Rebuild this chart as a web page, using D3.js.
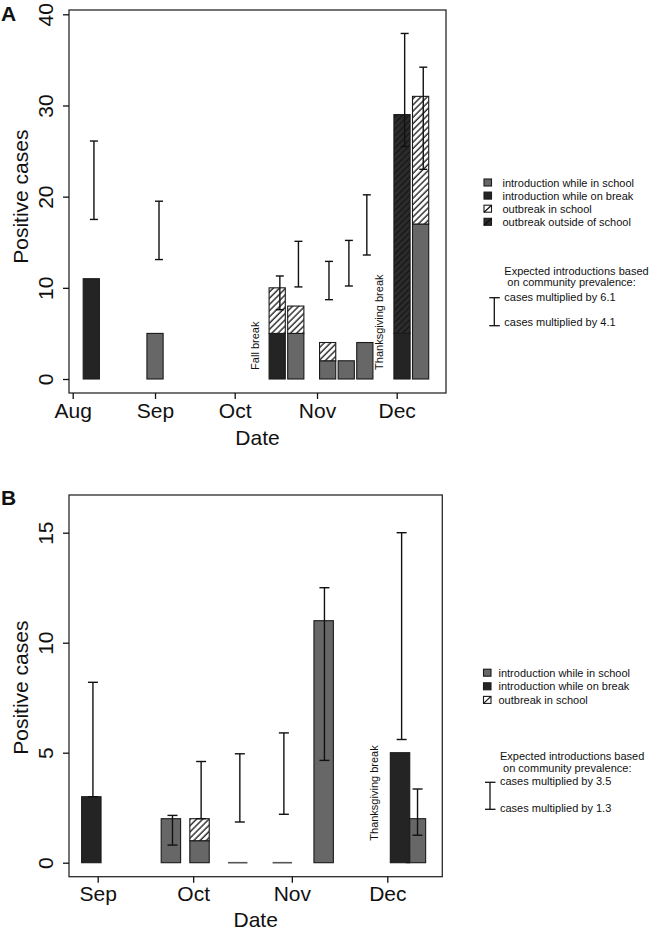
<!DOCTYPE html>
<html><head><meta charset="utf-8">
<script src="https://cdn.jsdelivr.net/npm/d3@7"></script>
<style>
body{margin:0;background:#fff;}
text{font-family:"Liberation Sans",Arial,Helvetica,sans-serif;fill:#111;}
</style>
</head><body>
<svg id="chart" width="651" height="929"></svg>
<script>
// ---------------- DATA ----------------
// Panel A
const legendA = ["introduction while in school","introduction while on break","outbreak in school","outbreak outside of school"];
const datesA = ["2020-08-08","2020-09-01","2020-10-17","2020-10-24","2020-11-05","2020-11-12","2020-11-19","2020-12-03","2020-12-10"];
const schoolA = [0,5,0,5,2,2,4,0,17];
const breakA = [11,0,5,0,0,0,0,5,0];
const outSchoolA = [0,0,5,3,2,0,0,0,14];
const outOutsideA = [0,0,0,0,0,0,0,24,0];
const errDatesA = ["2020-08-09T00:00Z","2020-09-02T12:00Z","2020-10-18T00:00Z","2020-10-25T00:00Z","2020-11-05T12:00Z","2020-11-13T00:00Z","2020-11-19T18:00Z","2020-12-04T00:00Z","2020-12-11T00:00Z"];
const lowA = [17.5,13.1,7.6,10.1,8.7,10.2,13.6,25.5,23.0];
const highA = [26.1,19.5,11.3,15.1,12.9,15.2,20.2,37.9,34.2];
const yTicksA = [0,10,20,30,40];
const xTicksA = ["2020-08-01","2020-09-01","2020-10-01","2020-11-01","2020-12-01"];
const expectedA = ["Expected introductions based"," on community prevalence:","cases multiplied by 6.1","cases multiplied by 4.1"];

// Panel B
const legendB = ["introduction while in school","introduction while on break","outbreak in school"];
const datesB = ["2020-08-30","2020-09-24","2020-10-03","2020-10-15","2020-10-29","2020-11-11","2020-12-10","2020-12-05"];
const schoolB = [0,2,1,0,0,11,2,0];
const breakB = [3,0,0,0,0,0,0,5];
const outSchoolB = [0,0,1,0,0,0,0,0];
const outOutsideB = [0,0,0,0,0,0,0,0];
const errDatesB = ["2020-08-30T12:00Z","2020-09-24T12:00Z","2020-10-03T12:00Z","2020-10-15T16:00Z","2020-10-29T12:00Z","2020-11-11T06:00Z","2020-12-10T12:00Z","2020-12-05T12:00Z"];
const lowB = [3.0,0.8,2.0,1.85,2.2,4.65,1.25,5.6];
const highB = [8.2,2.15,4.6,4.95,5.9,12.5,3.35,15.0];
const yTicksB = [0,5,10,15];
const xTicksB = ["2020-09-01","2020-10-01","2020-11-01","2020-12-01"];
const expectedB = ["Expected introductions based"," on community prevalence:","cases multiplied by 3.5","cases multiplied by 1.3"];

const annotations = [
  {panel:"A", text:"Fall break", date:"2020-10-10", y:1},
  {panel:"A", text:"Thanksgiving break", date:"2020-11-26", y:1},
  {panel:"B", text:"Thanksgiving break", date:"2020-11-28", y:1}
];

// ---------------- DRAW ----------------
const svg = d3.select("#chart");
const parse = s => d3.isoParse(s);
const DAY = 86400000;
const keys = ["school","brk","outSchool","outOutside"];
const fills = {school:"#676767", brk:"#242424", outSchool:"url(#hatchW)", outOutside:"url(#hatchD)"};

const defs = svg.append("defs");
const pw = defs.append("pattern").attr("id","hatchW").attr("patternUnits","userSpaceOnUse")
  .attr("width",4.4).attr("height",4.4).attr("patternTransform","rotate(45)");
pw.append("rect").attr("width",4.4).attr("height",4.4).attr("fill","#fff");
pw.append("line").attr("x1",1).attr("y1",0).attr("x2",1).attr("y2",4.4).attr("stroke","#151515").attr("stroke-width",1.3);
const pd = defs.append("pattern").attr("id","hatchD").attr("patternUnits","userSpaceOnUse")
  .attr("width",4.4).attr("height",4.4).attr("patternTransform","rotate(45)");
pd.append("rect").attr("width",4.4).attr("height",4.4).attr("fill","#2c2c2c");
pd.append("line").attr("x1",1).attr("y1",0).attr("x2",1).attr("y2",4.4).attr("stroke","#111").attr("stroke-width",1.1);

function panel(cfg){
  const g = svg.append("g");
  const x = d3.scaleUtc().domain([parse(cfg.xTicks[0]), parse(cfg.xTicks[cfg.xTicks.length-1])]).range(cfg.xRange);
  const y = d3.scaleLinear().domain([0, cfg.yTicks[cfg.yTicks.length-1]]).range(cfg.yRange);
  const barDays = 6.1;
  const rows = cfg.dates.map((d,i)=>({date:parse(d), school:cfg.school[i], brk:cfg.brk[i], outSchool:cfg.outSchool[i], outOutside:cfg.outOutside[i]}));
  const stacked = d3.stack().keys(keys)(rows);

  // bars
  rows.forEach((r,i)=>{
    const x0 = x(new Date(+r.date - barDays/2*DAY)), x1 = x(new Date(+r.date + barDays/2*DAY));
    const total = keys.reduce((s,k)=>s+r[k],0);
    if(total===0){
      g.append("line").attr("x1",x0).attr("x2",x1).attr("y1",y(0)).attr("y2",y(0))
        .attr("stroke","#555").attr("stroke-width",1.6);
      return;
    }
    stacked.forEach(layer=>{
      const s = layer[i];
      if(s[1]-s[0] <= 0) return;
      g.append("rect").attr("x",x0).attr("width",x1-x0)
        .attr("y",y(s[1])).attr("height",y(s[0])-y(s[1]))
        .attr("fill",fills[layer.key]).attr("stroke","#1a1a1a").attr("stroke-width",1.1);
    });
  });

  // error bars
  cfg.errDates.forEach((d,i)=>{
    const cx = x(parse(d));
    const cw = cfg.cap/2;
    const eg = g.append("g").attr("stroke","#111").attr("stroke-width",1.4).attr("fill","none");
    eg.append("line").attr("x1",cx).attr("x2",cx).attr("y1",y(cfg.low[i])).attr("y2",y(cfg.high[i]));
    eg.append("line").attr("x1",cx-cw).attr("x2",cx+cw).attr("y1",y(cfg.low[i])).attr("y2",y(cfg.low[i]));
    eg.append("line").attr("x1",cx-cw).attr("x2",cx+cw).attr("y1",y(cfg.high[i])).attr("y2",y(cfg.high[i]));
  });

  // frame
  g.append("rect").attr("x",cfg.frame[0]).attr("y",cfg.frame[1])
    .attr("width",cfg.frame[2]-cfg.frame[0]).attr("height",cfg.frame[3]-cfg.frame[1])
    .attr("fill","none").attr("stroke","#2a2a2a").attr("stroke-width",1.3);

  // x axis
  const xa = g.append("g").attr("transform",`translate(0,${cfg.frame[3]})`)
    .call(d3.axisBottom(x).tickValues(cfg.xTicks.map(parse)).tickFormat(d3.utcFormat("%b")).tickSize(6));
  xa.select(".domain").remove();
  xa.selectAll(".tick line").attr("stroke","#111").attr("stroke-width",1.3);
  xa.selectAll(".tick text").attr("y",cfg.xLabY).attr("dy",null)
    .style("font-size","21px").style("fill","#111").attr("font-family",null);

  // y axis
  const ya = g.append("g").attr("transform",`translate(${cfg.frame[0]},0)`)
    .call(d3.axisLeft(y).tickValues(cfg.yTicks).tickFormat(d3.format("d")).tickSize(6));
  ya.select(".domain").remove();
  ya.selectAll(".tick line").attr("stroke","#111").attr("stroke-width",1.3);
  ya.selectAll(".tick text").attr("x",0).attr("dy",null).attr("text-anchor","middle")
    .attr("transform","translate(-16,0) rotate(-90)")
    .style("font-size","21px").style("fill","#111").attr("font-family",null);

  // titles
  g.append("text").attr("x",(cfg.frame[0]+cfg.frame[2])/2).attr("y",cfg.xTitleY)
    .attr("text-anchor","middle").style("font-size","21px").text("Date");
  g.append("text").attr("transform",`translate(28,${(cfg.yRange[0]+cfg.yRange[1])/2 + cfg.yTitleShift}) rotate(-90)`)
    .attr("text-anchor","middle").style("font-size","21px").text("Positive cases");
  g.append("text").attr("x",1).attr("y",cfg.letterY).style("font-size","21px").style("font-weight","bold").text(cfg.letter);

  // annotations
  annotations.filter(a=>a.panel===cfg.letter).forEach(a=>{
    g.append("text").attr("transform",`translate(${x(parse(a.date))},${y(a.y)}) rotate(-90)`)
      .style("font-size","11px").text(a.text);
  });

  // legend
  const lg = g.append("g");
  cfg.legend.forEach((t,i)=>{
    const cy = cfg.legY + i*cfg.legStep;
    const sx = cfg.swX, sw = 7.5, sh = 7;
    const fillKey = keys[i];
    if(fillKey==="school" || fillKey==="brk"){
      lg.append("rect").attr("x",sx).attr("y",cy-sh/2).attr("width",sw).attr("height",sh)
        .attr("fill",fills[fillKey]).attr("stroke","#1a1a1a").attr("stroke-width",1.1);
    } else {
      lg.append("rect").attr("x",sx).attr("y",cy-sh/2).attr("width",sw).attr("height",sh)
        .attr("fill",fillKey==="outSchool"?"#fff":"#2c2c2c").attr("stroke","#1a1a1a").attr("stroke-width",1.1);
      lg.append("line").attr("x1",sx).attr("y1",cy+sh/2).attr("x2",sx+sw).attr("y2",cy-sh/2)
        .attr("stroke","#111").attr("stroke-width",1.2);
    }
    lg.append("text").attr("x",cfg.legTextX).attr("y",cy+4).style("font-size","11px").text(t);
  });
  // expected legend
  cfg.expected.forEach((t,i)=>{
    lg.append("text").attr("x",cfg.expX).attr("y",cfg.expY[i]).style("font-size","11px")
      .style("white-space","pre").text(t);
  });
  const ex = cfg.expSym;
  const sg = lg.append("g").attr("stroke","#111").attr("stroke-width",1.3);
  sg.append("line").attr("x1",ex[0]).attr("x2",ex[0]).attr("y1",ex[1]).attr("y2",ex[2]);
  sg.append("line").attr("x1",ex[0]-5).attr("x2",ex[0]+5.5).attr("y1",ex[1]).attr("y2",ex[1]);
  sg.append("line").attr("x1",ex[0]-5).attr("x2",ex[0]+5.5).attr("y1",ex[2]).attr("y2",ex[2]);
}

panel({
  letter:"A", letterY:21,
  dates:datesA, school:schoolA, brk:breakA, outSchool:outSchoolA, outOutside:outOutsideA,
  errDates:errDatesA, low:lowA, high:highA,
  xTicks:xTicksA, yTicks:yTicksA,
  xRange:[72.7,396.7], yRange:[379,14.3],
  frame:[69,10,446,393], xLabY:25, xTitleY:445, yTitleShift:0,
  cap:8,
  legend:legendA, legY:182.5, legStep:13.1, swX:484, legTextX:502.5,
  expected:expectedA, expX:504.3, expY:[274.5,286,300.7,326], expSym:[494.3,297.7,325.7]
});
panel({
  letter:"B", letterY:504.5,
  dates:datesB, school:schoolB, brk:breakB, outSchool:outSchoolB, outOutside:outOutsideB,
  errDates:errDatesB, low:lowB, high:highB,
  xTicks:xTicksB, yTicks:yTicksB,
  xRange:[97.7,387.3], yRange:[862.7,532.7],
  frame:[69,495,442.3,876.7], xLabY:24, xTitleY:926.5, yTitleShift:-10,
  cap:10,
  legend:legendB, legY:672.7, legStep:13.6, swX:483.5, legTextX:498.5,
  expected:expectedB, expX:500, expY:[760,772,785,811.5], expSym:[490,782.3,809.3]
});
</script>
</body></html>
